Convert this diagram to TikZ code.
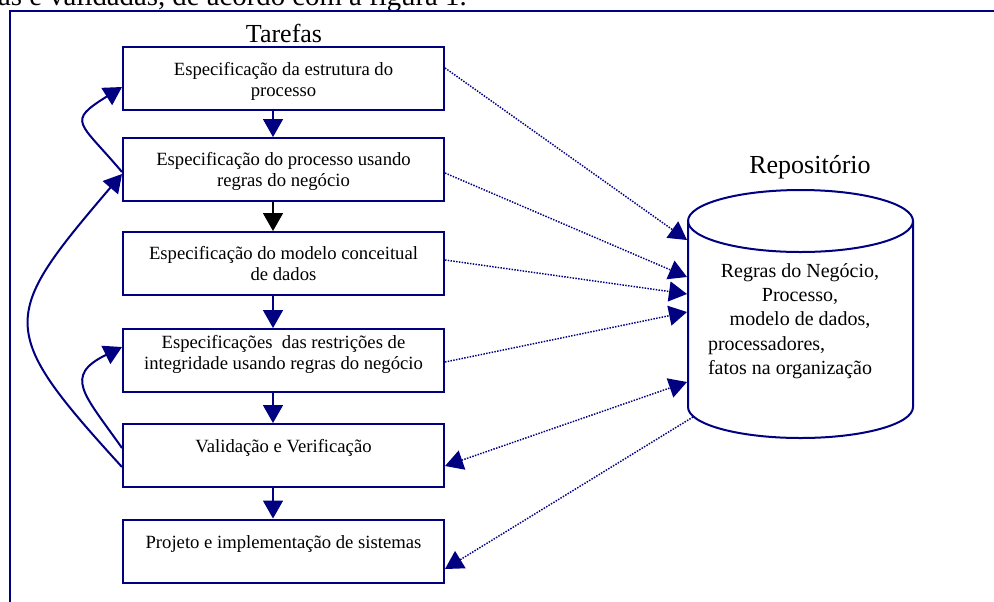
\documentclass[tikz,border=0pt]{standalone}
\usepackage{fontspec}
\setmainfont{Liberation Serif}
\usetikzlibrary{arrows.meta,calc}
\definecolor{navyb}{RGB}{0,0,128}
\begin{document}
\begin{tikzpicture}[x=0.75pt,y=-0.75pt,
  boxstyle/.style={draw=navyb, line width=1.5pt, minimum width=240.75pt, minimum height=47.25pt, inner sep=0pt},
  boxtext/.style={font=\fontsize{14}{15.75}\selectfont, align=center, inner sep=0pt, anchor=north},
  flowarr/.style={navyb, line width=1.2pt, -{Triangle[length=13.5pt,width=15pt]}},
  looparr/.style={navyb, line width=1.5pt, -{Triangle[length=13.5pt,width=15pt]}},
  dotarr/.style={navyb, line width=1.1pt, densely dotted, -{Triangle[length=13.5pt,width=15pt]}},
  cyl/.style={navyb, line width=1.5pt}
]
\useasboundingbox (0,0) rectangle (994,601);
\clip (0,0) rectangle (994,601);

% cropped line of text above the frame
\node[font=\fontsize{21.6}{24}\selectfont, anchor=base east, inner sep=0pt] (toptext) at (467,5) {as e validadas, de acordo com a figura 1.};

% frame
\draw[navyb, line width=1.5pt] (10,640) -- (10,11) -- (1020,11);

% titles
\node[font=\fontsize{19.5}{22}\selectfont, anchor=base, inner sep=0pt] (tarefas) at (284,42) {Tarefas};
\node[font=\fontsize{19.5}{22}\selectfont, anchor=base, inner sep=0pt] (repotitle) at (810,173) {Repositório};

% boxes
\node[boxstyle] (b1) at (283.5,78.5) {};
\node[boxstyle] (b2) at (283.5,169.5) {};
\node[boxstyle] (b3) at (283.5,263.5) {};
\node[boxstyle] (b4) at (283.5,360.5) {};
\node[boxstyle] (b5) at (283.5,455.5) {};
\node[boxstyle] (b6) at (283.5,551) {};

\node[boxtext] (t1) at (283.5,60.3) {\rule{0pt}{11pt}Especificação da estrutura do\\processo};
\node[boxtext] (t2) at (283.5,150.3) {\rule{0pt}{11pt}Especificação do processo usando\\regras do negócio};
\node[boxtext] (t3) at (283.5,244.3) {\rule{0pt}{11pt}Especificação do modelo conceitual\\de dados};
\node[boxtext] (t4) at (283.5,333.3) {\rule{0pt}{11pt}Especificações\ \ das restrições de\\integridade usando regras do negócio};
\node[boxtext] (t5) at (283.5,437.3) {\rule{0pt}{11pt}Validação e Verificação};
\node[boxtext] (t6) at (283.5,533.3) {\rule{0pt}{11pt}Projeto e implementação de sistemas};

% vertical flow arrows
\coordinate (ax) at (273,0);
\draw[flowarr] (b1.south -| ax) -- (b2.north -| ax);
\draw[flowarr, black] (b2.south -| ax) -- (b3.north -| ax);
\draw[flowarr] (b3.south -| ax) -- (b4.north -| ax);
\draw[flowarr] (b4.south -| ax) -- (b5.north -| ax);
\draw[flowarr] (b5.south -| ax) -- (b6.north -| ax);

% feedback loops
\draw[looparr] ([yshift=-1.875pt]b2.west) .. controls (79,121) and (66,122) .. ([yshift=-6.375pt]b1.west);
\draw[looparr] ([yshift=-8.625pt]b5.west) .. controls (-4,329) and (0,317) .. ([yshift=-3.375pt]b2.west);
\draw[looparr] ([yshift=5.625pt]b5.west) .. controls (84,394) and (63,376) .. ([yshift=10.125pt]b4.west);

% repository cylinder
\draw[cyl] (688,221) -- (688,407) arc[start angle=180, end angle=0, x radius=112.5, y radius=31] -- (913,221);
\draw[cyl] (800.5,221) ellipse [x radius=112.5, y radius=31];
\node[font=\fontsize{15}{18.2}\selectfont, align=center, inner sep=0pt, anchor=north] (repotext) at (800,261)
  {\rule{0pt}{12pt}Regras do Negócio,\\Processo,\\modelo de dados,\\\makebox[138pt][l]{processadores,}\\\makebox[138pt][l]{fatos na organização}};

\coordinate (r1) at (687,240);
\coordinate (r2) at (687,277);
\coordinate (r3) at (687,294);
\coordinate (r4) at (687,312);
\coordinate (r5) at (687,382);
\coordinate (r6) at (693,417);

% dotted connectors
\draw[dotarr] ([yshift=7.875pt]b1.east) -- (r1);
\draw[dotarr] ([yshift=-2.625pt]b2.east) -- (r2);
\draw[dotarr] ([yshift=2.625pt]b3.east) -- (r3);
\draw[dotarr] ([yshift=-1.125pt]b4.east) -- (r4);
\draw[dotarr, {Triangle[length=13.5pt,width=15pt]}-{Triangle[length=13.5pt,width=15pt]}] ([yshift=-7.875pt]b5.east) -- (r5);
\draw[dotarr] (r6) -- ([yshift=-13.5pt]b6.east);
\end{tikzpicture}
\end{document}
